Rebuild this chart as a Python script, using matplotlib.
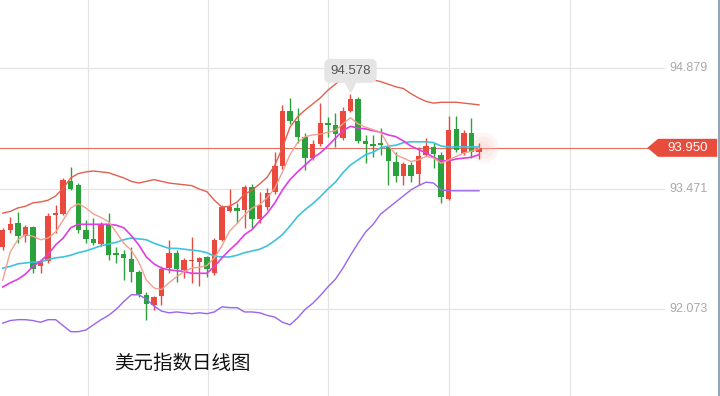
import numpy as np
import matplotlib
matplotlib.use('Agg')
import matplotlib.pyplot as plt
import matplotlib.transforms as mtransforms
from matplotlib.patches import Polygon

# daily candles (open, high, low, close)
opens = [92.796, 92.993, 93.075, 92.924, 93.028, 92.575, 92.633, 93.169, 93.180, 93.564,
         93.517, 92.993, 92.889, 92.831, 93.063, 92.726, 92.714, 92.656, 92.505, 92.237,
         92.121, 92.226, 92.552, 92.726, 92.528, 92.633, 92.621, 92.680, 92.493, 92.877,
         93.215, 93.250, 93.226, 93.494, 93.122, 93.261, 93.436, 93.738, 94.378, 94.262,
         94.076, 93.832, 93.994, 94.239, 94.216, 94.064, 94.378, 94.518, 94.029, 93.994,
         94.006, 93.960, 93.786, 93.622, 93.750, 93.645, 93.866, 93.960, 93.866, 93.357,
         94.169, 93.891, 94.122, 93.901]
closes = [92.993, 93.063, 92.924, 93.028, 92.540, 92.633, 93.157, 93.192, 93.576, 93.471,
          92.993, 92.889, 92.842, 93.063, 92.703, 92.703, 92.668, 92.505, 92.249, 92.133,
          92.214, 92.540, 92.726, 92.540, 92.645, 92.645, 92.668, 92.540, 92.877, 93.261,
          93.261, 93.215, 93.494, 93.122, 93.285, 93.424, 93.738, 94.378, 94.262, 94.076,
          93.832, 93.994, 94.239, 94.216, 94.111, 94.378, 94.518, 94.029, 93.994, 93.971,
          93.983, 93.797, 93.622, 93.762, 93.622, 93.855, 93.971, 93.878, 93.378, 94.157,
          93.925, 94.122, 93.901, 93.950]
highs = [93.017, 93.145, 93.204, 93.052, 93.040, 92.645, 93.192, 93.285, 93.599, 93.730,
         93.540, 93.110, 93.133, 93.087, 93.192, 92.796, 92.761, 92.796, 92.528, 92.272,
         92.226, 92.575, 92.877, 92.761, 92.668, 92.912, 92.680, 92.691, 92.901, 93.285,
         93.471, 93.308, 93.517, 93.529, 93.436, 93.482, 93.901, 94.448, 94.530, 94.413,
         94.122, 94.041, 94.472, 94.309, 94.355, 94.425, 94.578, 94.541, 94.099, 94.099,
         94.181, 93.983, 93.901, 93.786, 93.786, 93.960, 94.064, 94.006, 93.901, 94.320,
         94.320, 94.157, 94.297, 94.006]
lows = [92.761, 92.960, 92.842, 92.854, 92.493, 92.493, 92.610, 92.960, 93.169, 93.459,
        92.960, 92.842, 92.819, 92.808, 92.645, 92.610, 92.412, 92.389, 92.214, 91.947,
        92.063, 92.121, 92.493, 92.389, 92.435, 92.377, 92.342, 92.447, 92.470, 92.866,
        93.204, 93.075, 93.017, 93.017, 93.075, 93.226, 93.413, 93.704, 94.227, 94.006,
        93.692, 93.808, 93.971, 94.076, 93.960, 94.041, 94.367, 94.006, 93.775, 93.843,
        93.866, 93.517, 93.552, 93.517, 93.552, 93.517, 93.855, 93.715, 93.308, 93.343,
        93.901, 93.866, 93.832, 93.820]

# indicator lines
boll_upper = [93.19, 93.21, 93.25, 93.27, 93.31, 93.32, 93.34, 93.39, 93.48, 93.60,
              93.65, 93.67, 93.68, 93.67, 93.66, 93.63, 93.60, 93.56, 93.54, 93.56,
              93.58, 93.56, 93.54, 93.53, 93.52, 93.51, 93.47, 93.44, 93.34, 93.26,
              93.27, 93.32, 93.41, 93.46, 93.53, 93.61, 93.75, 93.95, 94.19, 94.31,
              94.39, 94.46, 94.53, 94.62, 94.69, 94.76, 94.80, 94.79, 94.76, 94.74,
              94.72, 94.69, 94.66, 94.64, 94.58, 94.53, 94.49, 94.47, 94.48, 94.48,
              94.48, 94.47, 94.46, 94.45]
boll_mid = [92.55, 92.57, 92.60, 92.61, 92.62, 92.62, 92.65, 92.67, 92.68, 92.70,
            92.73, 92.75, 92.78, 92.81, 92.83, 92.85, 92.88, 92.90, 92.89, 92.88,
            92.84, 92.81, 92.78, 92.78, 92.77, 92.76, 92.75, 92.73, 92.69, 92.68,
            92.68, 92.70, 92.73, 92.75, 92.77, 92.81, 92.87, 92.94, 93.04, 93.15,
            93.23, 93.30, 93.38, 93.47, 93.55, 93.66, 93.75, 93.81, 93.87, 93.90,
            93.95, 93.97, 93.98, 94.01, 94.02, 94.02, 94.02, 94.01, 93.97, 93.96,
            93.96, 93.96, 93.96, 93.96]
boll_lower = [91.91, 91.94, 91.95, 91.95, 91.94, 91.92, 91.95, 91.95, 91.88, 91.81,
              91.81, 91.83, 91.89, 91.95, 92.00, 92.07, 92.16, 92.24, 92.24, 92.19,
              92.11, 92.05, 92.03, 92.04, 92.03, 92.02, 92.03, 92.02, 92.04, 92.10,
              92.09, 92.09, 92.04, 92.04, 92.03, 92.00, 91.98, 91.92, 91.89, 91.97,
              92.07, 92.14, 92.23, 92.33, 92.42, 92.55, 92.70, 92.84, 92.97, 93.06,
              93.18, 93.25, 93.32, 93.39, 93.46, 93.51, 93.55, 93.54, 93.46, 93.45,
              93.45, 93.45, 93.45, 93.45]
ma10 = [92.33, 92.38, 92.42, 92.48, 92.57, 92.63, 92.71, 92.82, 92.90, 93.02,
        93.06, 93.06, 93.06, 93.06, 93.06, 93.05, 93.02, 92.93, 92.82, 92.68,
        92.60, 92.55, 92.53, 92.52, 92.51, 92.49, 92.49, 92.49, 92.57, 92.67,
        92.76, 92.84, 92.94, 93.00, 93.10, 93.19, 93.31, 93.46, 93.58, 93.67,
        93.75, 93.83, 93.89, 93.97, 94.06, 94.15, 94.20, 94.18, 94.17, 94.15,
        94.13, 94.10, 94.08, 94.03, 93.97, 93.93, 93.89, 93.84, 93.80, 93.80,
        93.82, 93.83, 93.84, 93.87]
ma5 = [92.41, 92.74, 92.88, 92.94, 92.92, 92.88, 92.90, 92.97, 93.11, 93.25,
       93.30, 93.25, 93.18, 93.14, 93.09, 92.97, 92.84, 92.76, 92.62, 92.41,
       92.32, 92.30, 92.38, 92.45, 92.51, 92.55, 92.56, 92.58, 92.67, 92.81,
       92.98, 93.07, 93.17, 93.25, 93.29, 93.37, 93.48, 93.67, 93.87, 94.01,
       94.08, 94.10, 94.11, 94.13, 94.15, 94.23, 94.30, 94.23, 94.19, 94.16,
       94.13, 93.98, 93.87, 93.83, 93.79, 93.81, 93.85, 93.83, 93.77, 93.81,
       93.85, 93.89, 93.91, 93.94]

price_ticks = [94.879, 93.471, 92.073]
grid_x = [11.3, 27.2, 43.0, 59.0, 75.0]
title = '美元指数日线图'

RED = '#ea4a3e'
GREEN = '#2aa13a'

fig = plt.figure(figsize=(7.2, 3.96), dpi=100)
ax = fig.add_axes([0, 0, 1, 1])
ax.set_xlim(-0.36, 94.88)
ax.set_ylim(91.062, 95.670)
ax.axis('off')

# grid
for gx in grid_x:
    ax.axvline(gx, color='#e4e4e4', lw=0.9, zorder=0)
for yv in price_ticks:
    ax.axhline(yv, xmin=0, xmax=0.922, color='#e4e4e4', lw=0.9, zorder=0)
    ax.text(0.930, yv, f'{yv:.3f}', transform=ax.get_yaxis_transform(),
            ha='left', va='center', fontsize=9, color='#a9a9a9', family='Liberation Sans')

# candles
o = np.array(opens); c = np.array(closes)
h = np.array(highs); l = np.array(lows)
idx = np.arange(len(o))
cols = np.where(c >= o, RED, GREEN)
ax.vlines(idx, l, h, colors=cols, lw=1.0, zorder=3)
ax.bar(idx, np.maximum(np.abs(c - o), 0.014), bottom=np.minimum(o, c),
       width=0.72, color=cols, linewidth=0, zorder=4)

# indicators
ax.plot(idx, boll_upper, color='#e2604f', lw=1.0, zorder=5)
ax.plot(idx, boll_mid, color='#3ec3de', lw=1.2, zorder=5)
ax.plot(idx, boll_lower, color='#9b63f0', lw=1.0, zorder=5)
ax.plot(idx, ma10, color='#e03ee0', lw=1.2, zorder=5)
ax.plot(idx, ma5, color='#f3a090', lw=1.0, zorder=5)

# last price line + tag
last = closes[-1]
ax.axhline(last, xmin=0, xmax=0.9, color='#e8705f', lw=0.8, zorder=2)
ax.scatter([idx[-1] + 0.6] * 3, [last] * 3, s=[480, 240, 90], color='#f7c0ba',
           alpha=0.15, lw=0, zorder=2)
hh = 9 * (95.670 - 91.062) / 396
tag = Polygon([(0.899, last), (0.914, last + hh), (0.996, last + hh),
               (0.996, last - hh), (0.914, last - hh)], closed=True,
              transform=ax.get_yaxis_transform(), fc='#e84c3d', ec='none', zorder=6)
ax.add_patch(tag)
ax.text(0.9555, last, f'{last:.3f}', transform=ax.get_yaxis_transform(),
        ha='center', va='center', fontsize=9.5, color='white',
        family='Liberation Sans', zorder=7)

# max high marker
hi = int(np.argmax(h))
ax.annotate(f'{h[hi]:.3f}', xy=(hi, h[hi]), xytext=(0, 23), textcoords='offset pixels',
            ha='center', va='center', fontsize=9.5, color='#555555', family='Liberation Sans',
            bbox=dict(boxstyle='round,pad=0.45', fc='#e5e5e5', ec='none'), zorder=8)
tri = mtransforms.offset_copy(ax.transData, fig=fig, x=0, y=7, units='dots')
ax.plot(hi, h[hi], marker='v', ms=7, color='#e5e5e5', transform=tri, zorder=8)

# right border
ax.plot([0.9985, 0.9985], [0, 1], transform=ax.transAxes, color='#8395a8', lw=1.2)

fig.text(114 / 720, 1 - 363 / 396, title, fontsize=14, color='#111111',
         family=['Noto Sans CJK SC', 'DejaVu Sans'], ha='left', va='center')

fig.savefig('out.png', dpi=100, facecolor='white')
